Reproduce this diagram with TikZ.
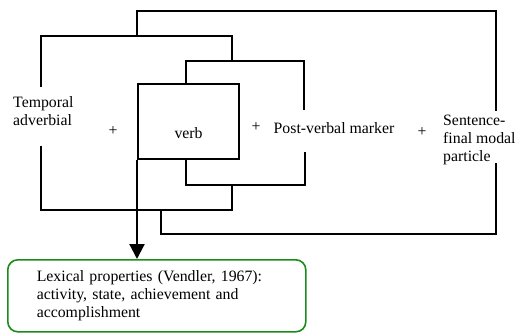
\documentclass[tikz,border=0pt]{standalone}
\usepackage{fontspec}
\setmainfont{Liberation Serif}
\usetikzlibrary{arrows.meta}
\definecolor{lexgreen}{RGB}{25,140,25}
\begin{document}
\begin{tikzpicture}[x=1pt,y=-1pt,
    font=\fontsize{15.8}{18.3}\selectfont,
    txt/.style={inner sep=0pt},
    brk/.style={line width=2.2pt},
    verbbox/.style={draw,line width=2.2pt,inner sep=0pt,minimum width=101pt,
        text height=54pt,text depth=21pt},
    lexbox/.style={draw=lexgreen,line width=1.6pt,rounded corners=10pt,
        inner xsep=29pt,text width=240pt,align=left,minimum height=72pt}]
    \useasboundingbox (0,0) rectangle (516,332);

    \node[txt,align=left,anchor=west] (temp) at (13,111) {Temporal\\adverbial};
    \node[txt] (pl1) at (113,131) {+};
    \node[verbbox,anchor=north west] (verb) at (137,83) {verb};
    \node[txt] (pl2) at (256,127) {+};
    \node[txt] (post) at (334,128) {Post-verbal marker};
    \node[txt] (pl3) at (422,132) {+};
    \node[txt,align=left,anchor=west] (sfp) at (443,140) {Sentence-\\final modal\\particle};

    \node[lexbox,anchor=north west] (lex) at (7,259) {Lexical properties (Vendler, 1967):\\activity, state, achievement and\\accomplishment};

    % free ends and junctions
    \coordinate (tA) at (41,87);   % above temporal
    \coordinate (tB) at (41,146);  % below temporal
    \coordinate (pA) at (304,110); % above post-verbal
    \coordinate (pB) at (305,152); % below post-verbal
    \coordinate (sA) at (496,111); % above particle
    \coordinate (sB) at (496,163); % beside particle
    \coordinate (jT) at (232,61);
    \coordinate (jO) at (137,36);
    \coordinate (jTb) at (232,185);
    \coordinate (jOb) at (161,210);

\draw[brk] (tA) -- ++(0,-51) -| (jT);
\draw[brk] ([xshift=-2.5pt]verb.north) |- (jT) -| (pA);
\draw[brk] (jO) -- ++(0,-25) -| (sA);

\draw[brk] (tB) -- ++(0,64) -| (jTb);
\draw[brk] ([xshift=-2.5pt]verb.south) |- (jTb) -| (pB);
\draw[brk] (jOb) -- ++(0,24) -| (sB);

\draw[brk,-{Triangle[width=15pt,length=15pt]}] (verb.south west) -- (verb.south west |- lex.north);

\end{tikzpicture}
\end{document}
